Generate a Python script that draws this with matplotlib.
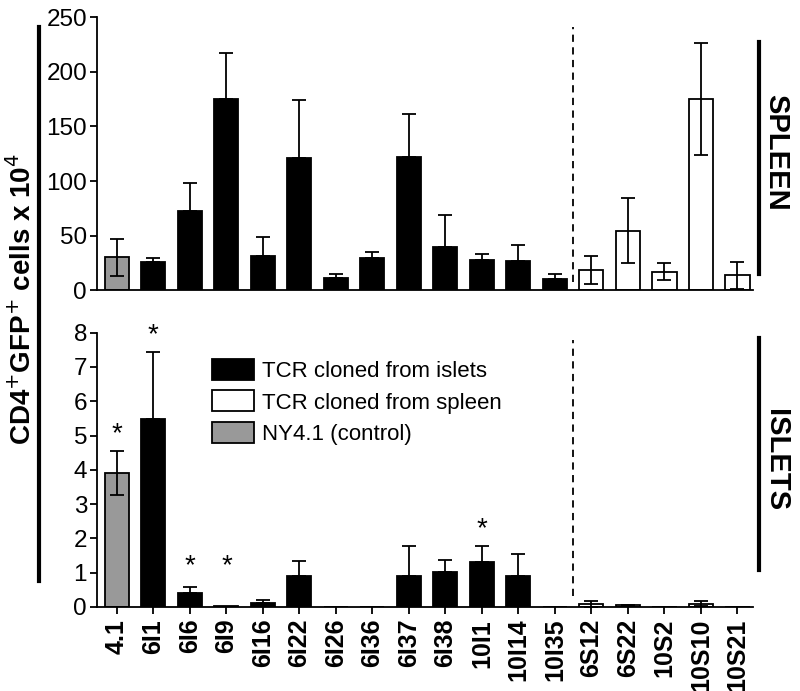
import matplotlib.pyplot as plt
from matplotlib.lines import Line2D
from matplotlib.patches import Patch

plt.rcParams['font.family'] = ['Liberation Sans', 'DejaVu Sans']

clones = ['4.1', '6I1', '6I6', '6I9', '6I16', '6I22', '6I26', '6I36', '6I37',
          '6I38', '10I1', '10I14', '10I35', '6S12', '6S22', '10S2', '10S10', '10S21']
# 'c' control, 'i' islet clone, 's' spleen clone
origin = ['c', 'i', 'i', 'i', 'i', 'i', 'i', 'i', 'i',
          'i', 'i', 'i', 'i', 's', 's', 's', 's', 's']

spleen_mean = [30, 25.5, 73, 175, 31.5, 121, 11, 29.5, 122, 40, 28, 26.5, 10.5,
               18.5, 54.5, 17, 175, 13.5]
spleen_err = [17, 4, 25, 42, 17, 53, 3.5, 5.5, 39, 29, 5, 15, 4.5,
              12.5, 30, 7.5, 51, 12.5]

islet_mean = [3.9, 5.48, 0.4, 0.02, 0.12, 0.9, 0, 0, 0.9, 1.02, 1.32, 0.89, 0,
              0.09, 0.05, 0, 0.1, 0]
islet_err = [0.64, 1.96, 0.17, 0.0, 0.09, 0.43, 0, 0, 0.87, 0.34, 0.46, 0.65, 0,
             0.08, 0.02, 0, 0.06, 0]
signif = ['4.1', '6I1', '6I6', '6I9', '10I1']

colors = {'c': '#999999', 'i': 'black', 's': 'white'}
x = list(range(len(clones)))
bar_col = [colors[o] for o in origin]

fig = plt.figure(figsize=(8, 6.91), dpi=100)
ax1 = fig.add_axes([0.121, 0.580, 0.820, 0.395])
ax2 = fig.add_axes([0.121, 0.1216, 0.820, 0.397])


def draw(ax, mean, err):
    ax.bar(x, mean, width=0.66, color=bar_col, edgecolor='black', linewidth=1.3, zorder=2)
    for i in x:
        if err[i] == 0:
            continue
        if origin[i] == 'i':
            yerr = [[0], [err[i]]]
        else:
            yerr = [[min(err[i], mean[i])], [err[i]]]
        ax.errorbar(i, mean[i], yerr=yerr, fmt='none', ecolor='black',
                    elinewidth=1.3, capsize=5, capthick=1.3, zorder=3)
    for s in ['top', 'right']:
        ax.spines[s].set_visible(False)
    ax.spines['left'].set_linewidth(1.3)
    ax.spines['bottom'].set_linewidth(1.3)
    ax.set_xlim(-0.55, 17.42)
    ax.tick_params(axis='y', labelsize=17.5, width=1.3, length=5, pad=2)
    ax.tick_params(axis='x', width=1.3, length=5)


draw(ax1, spleen_mean, spleen_err)
ax1.set_ylim(0, 250)
ax1.set_yticks([0, 50, 100, 150, 200, 250])
ax1.set_xticks([])
ax1.axvline(12.5, ymin=0.03, ymax=0.963, color='black', linestyle=(0, (4, 3)), linewidth=1.3)

draw(ax2, islet_mean, islet_err)
ax2.set_ylim(0, 8)
ax2.set_yticks(range(0, 9))
ax2.set_xticks(x)
ax2.set_xticklabels(clones, rotation=90, fontsize=18, fontweight='bold')
ax2.axvline(12.5, ymin=0.04, ymax=0.974, color='black', linestyle=(0, (4, 3)), linewidth=1.3)

for name in signif:
    i = clones.index(name)
    y = max(islet_mean[i] + islet_err[i] + 0.5, 1.2)
    ax2.text(i, y, '*', ha='center', va='center', fontsize=20)

handles = [Patch(facecolor='black', edgecolor='black', linewidth=1.3),
           Patch(facecolor='white', edgecolor='black', linewidth=1.3),
           Patch(facecolor='#999999', edgecolor='black', linewidth=1.3)]
ax2.legend(handles, ['TCR cloned from islets', 'TCR cloned from spleen', 'NY4.1 (control)'],
           loc='upper left', bbox_to_anchor=(0.254, 0.4935), bbox_transform=fig.transFigure,
           frameon=False, fontsize=16, handlelength=1.9, handleheight=1.08,
           handletextpad=0.36, labelspacing=0.38, borderaxespad=0)

# side brackets and labels
fig.add_artist(Line2D([0.049, 0.049], [0.159, 0.961], color='black', linewidth=3))
fig.text(0.027, 0.567, 'CD4$^{+}$GFP$^{+}$ cells x 10$^{4}$', rotation=90,
         ha='center', va='center', fontsize=20, fontweight='bold')
fig.add_artist(Line2D([0.949, 0.949], [0.603, 0.939], color='black', linewidth=3))
fig.add_artist(Line2D([0.949, 0.949], [0.175, 0.511], color='black', linewidth=3))
fig.text(0.970, 0.780, 'SPLEEN', rotation=-90, ha='center', va='center',
         fontsize=21, fontweight='bold')
fig.text(0.970, 0.334, 'ISLETS', rotation=-90, ha='center', va='center',
         fontsize=21, fontweight='bold')

fig.savefig('out.png', dpi=100)
